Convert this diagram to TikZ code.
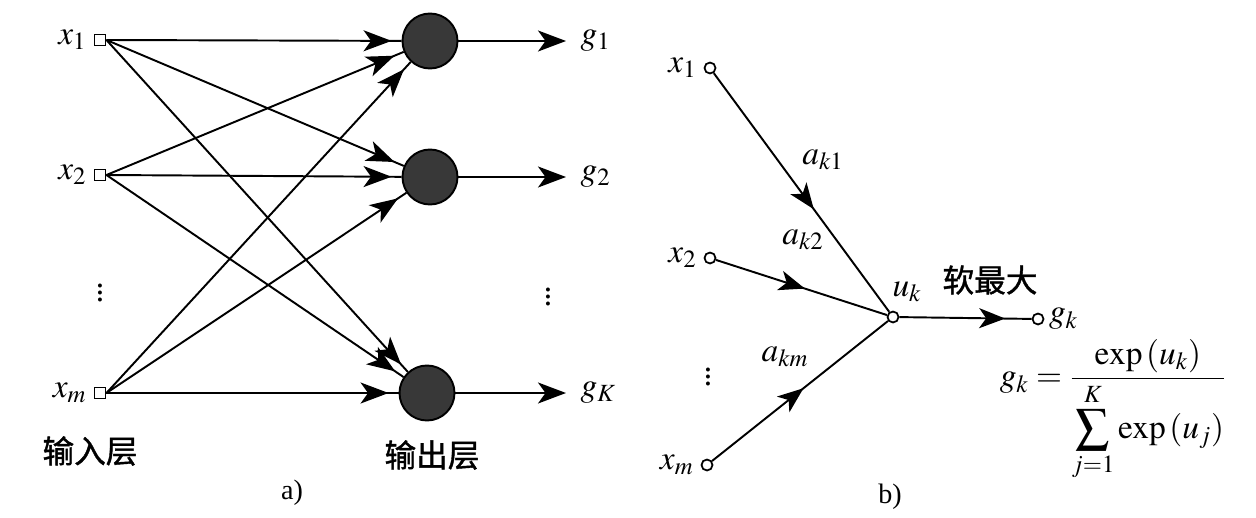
\documentclass[tikz,border=0pt]{standalone}
\usepackage{amsmath}
\usepackage{mathptmx}
\usepackage{fontspec}
\setmainfont{Liberation Serif}
\newfontfamily\cjk[FakeBold=1.2]{Noto Sans CJK SC}
\usetikzlibrary{positioning,arrows.meta,decorations.markings}

\begin{document}
\begin{tikzpicture}[
  x=0.02cm, y=-0.02cm,
  inbox/.style={draw, line width=1.1pt, minimum size=0.22cm, inner sep=0pt},
  neuron/.style={circle, draw, line width=1.1pt, fill=black!78,
                 minimum size=1.1cm, inner sep=0pt},
  port/.style={circle, draw, line width=1pt, fill=white,
               minimum size=0.22cm, inner sep=0pt},
  lbl/.style={font=\fontsize{19}{22}\selectfont, inner sep=1pt},
  cn/.style={font=\cjk\fontsize{18}{21}\selectfont, inner sep=1pt},
  link/.style={line width=1.1pt, postaction={decorate},
    decoration={markings, mark=at position -0.2cm with
      {\arrow{Stealth[length=0.56cm,width=0.42cm,inset=0.15cm]}}}},
  wire/.style={line width=1.1pt, postaction={decorate},
    decoration={markings, mark=at position #1 with
      {\arrow{Stealth[length=0.52cm,width=0.4cm,inset=0.14cm]}}}},
  outarr/.style={line width=1.1pt,
    -{Stealth[length=0.56cm,width=0.42cm,inset=0.15cm]}}
]
  \useasboundingbox (0,0) rectangle (1256,517);

  % a) input layer and output layer
  \node[inbox] (x1) at (100,40) {};
  \node[inbox] (x2) at (100,175) {};
  \node[inbox] (xm) at (100,393) {};
  \node[lbl, left=0.1cm of x1] (lx1) {$x_1$};
  \node[lbl, left=0.1cm of x2] (lx2) {$x_2$};
  \node[lbl, left=0.1cm of xm] (lxm) {$x_m$};
  \node[lbl] (vin) at (100,288) {$\vdots$};

  \node[neuron] (o1) at (430,41) {};
  \node[neuron] (o2) at (430,177) {};
  \node[neuron] (oK) at (427,393) {};

  \foreach \i in {x1,x2,xm}
    \foreach \j in {o1,o2,oK}
      \draw[link] (\i.east) -- (\j);

  \coordinate (t1) at (566,41);
  \coordinate (t2) at (566,177);
  \coordinate (tK) at (566,393);
  \draw[outarr] (o1) -- (t1);
  \draw[outarr] (o2) -- (t2);
  \draw[outarr] (oK) -- (tK);
  \node[lbl, right=0.25cm of t1] (g1) {$g_1$};
  \node[lbl, right=0.25cm of t2] (g2) {$g_2$};
  \node[lbl, right=0.25cm of tK] (gK) {$g_K$};
  \node[lbl] (vout) at (548,292) {$\vdots$};

  \node[cn] (inlayer) at (90,451) {输入层};
  \node[cn] (outlayer) at (432,455) {输出层};
  \node[font=\fontsize{16}{19}\selectfont] (capa) at (292,493) {a)};

  % b) one softmax output
  \node[port] (r1) at (710,68) {};
  \node[port] (r2) at (710,258) {};
  \node[port] (rm) at (707,465) {};
  \node[port] (uk) at (893,317) {};
  \node[port] (gk) at (1038,319) {};
  \node[lbl, left=0.1cm of r1] (lr1) {$x_1$};
  \node[lbl, left=0.1cm of r2] (lr2) {$x_2$};
  \node[lbl, left=0.1cm of rm] (lrm) {$x_m$};
  \node[lbl] (vr) at (708,372) {$\vdots$};

  \draw[wire=0.57] (r1) -- (uk);
  \draw[wire=0.52] (r2) -- (uk);
  \draw[wire=0.52] (rm) -- (uk);
  \draw[wire=0.8] (uk) -- (gk);

  \node[lbl] (ak1) at (823,160) {$a_{k1}$};
  \node[lbl] (ak2) at (803,240) {$a_{k2}$};
  \node[lbl] (akm) at (785,357) {$a_{km}$};
  \node[lbl] (luk) at (907,292) {$u_k$};
  \node[cn] (soft) at (990,280) {软最大};
  \node[lbl, right=0.05cm of gk] (lgk) {$g_k$};
  \node[lbl] (formula) at (1113,410)
    {$g_k=\dfrac{\exp\,(u_k)}{\displaystyle\sum_{j=1}^{K}\exp\,(u_j)}$};
  \node[font=\fontsize{16}{19}\selectfont] (capb) at (890,497) {b)};
\end{tikzpicture}
\end{document}
